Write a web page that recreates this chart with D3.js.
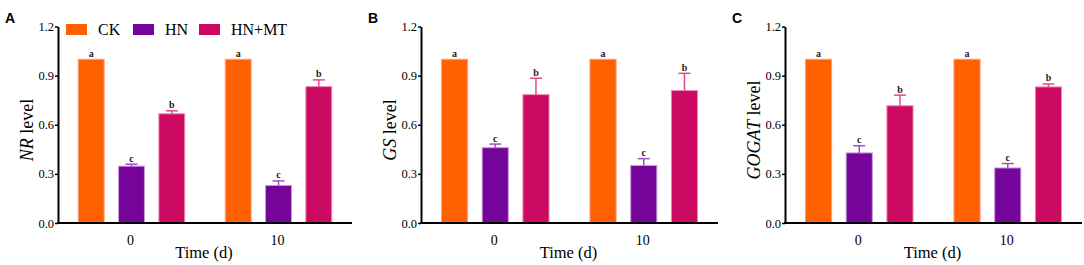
<!DOCTYPE html>
<html>
<head>
<meta charset="utf-8">
<script src="https://cdn.jsdelivr.net/npm/d3@7"></script>
<style>
  body { margin: 0; background: #fff; }
  svg { display: block; }
</style>
</head>
<body>
<svg width="1084" height="265"></svg>
<script>
const times = ["0", "10"]
const groups = ["CK", "HN", "HN+MT"]
const yTicks = [0, 0.3, 0.6, 0.9, 1.2]

// means per panel, [group][time]
const nrMean = [[1.0, 1.0], [0.347, 0.229], [0.667, 0.833]]
const nrErr = [[0, 0], [0.012, 0.028], [0.018, 0.041]]
const gsMean = [[1.0, 1.0], [0.46, 0.351], [0.784, 0.809]]
const gsErr = [[0, 0], [0.022, 0.042], [0.10, 0.105]]
const gogatMean = [[1.0, 1.0], [0.428, 0.336], [0.716, 0.831]]
const gogatErr = [[0, 0], [0.044, 0.027], [0.065, 0.018]]
const letters = [["a", "a"], ["c", "c"], ["b", "b"]]

const colors = ["#ff6000", "#75059a", "#cc0a62"]
const edges = ["#ffa080", "#c898dc", "#f08ab4"]
const errColors = ["#ff6000", "#a64cc4", "#e34891"]

const svg = d3.select("svg")
const serif = "'Liberation Serif', 'Times New Roman', serif"

const panels = [
  {tag: "A", name: "NR", mean: nrMean, err: nrErr, x0: 58, x1: 352},
  {tag: "B", name: "GS", mean: gsMean, err: gsErr, x0: 421, x1: 718},
  {tag: "C", name: "GOGAT", mean: gogatMean, err: gogatErr, x0: 785, x1: 1082}
]

const plotTop = 26.5, plotBottom = 223

panels.forEach((p, pi) => {
  const g = svg.append("g").attr("transform", "translate(" + p.x0 + ",0)")
  const w = p.x1 - p.x0

  const x = d3.scaleBand().domain(times).range([0, w]).padding(0)
  const xi = d3.scaleBand().domain(groups).range([0, x.bandwidth()])
    .paddingInner(0.333).paddingOuter(0.49)
  const y = d3.scaleLinear().domain([0, 1.2]).range([plotBottom, plotTop])

  // bars
  times.forEach((t, ti) => {
    groups.forEach((gr, gi) => {
      const v = p.mean[gi][ti]
      const e = p.err[gi][ti]
      const bx = x(t) + xi(gr)
      const bw = xi.bandwidth()
      g.append("rect")
        .attr("x", bx + 0.5).attr("y", y(v))
        .attr("width", bw - 1).attr("height", y(0) - y(v))
        .attr("fill", colors[gi])
        .attr("stroke", edges[gi]).attr("stroke-width", 1)
      const cx = bx + bw / 2
      if (e > 0) {
        g.append("line")
          .attr("x1", cx).attr("x2", cx).attr("y1", y(v)).attr("y2", y(v + e))
          .attr("stroke", errColors[gi]).attr("stroke-width", 1.5)
        g.append("line")
          .attr("x1", cx - 6).attr("x2", cx + 6).attr("y1", y(v + e)).attr("y2", y(v + e))
          .attr("stroke", errColors[gi]).attr("stroke-width", 1.5)
      }
      g.append("text")
        .attr("x", cx).attr("y", y(v + e) - 2.5)
        .attr("text-anchor", "middle")
        .style("font-family", serif).style("font-size", "10px").style("font-weight", "bold")
        .attr("fill", "#222")
        .text(letters[gi][ti])
    })
  })

  // y axis
  const ya = g.append("g")
    .call(d3.axisLeft(y).tickValues(yTicks).tickFormat(d3.format(".1f")).tickSize(3).tickSizeOuter(0))
  ya.select(".domain").attr("stroke-width", 2).attr("stroke", "#000")
  ya.selectAll(".tick line").attr("stroke-width", 1.5)
  ya.selectAll("text").style("font-family", serif).style("font-size", "12.5px").attr("fill", "#000").attr("x", -4)

  // x axis
  g.append("line")
    .attr("x1", -1).attr("x2", w).attr("y1", plotBottom).attr("y2", plotBottom)
    .attr("stroke", "#000").attr("stroke-width", 2)
  g.selectAll("text.xt").data(times).enter().append("text")
    .attr("class", "xt")
    .attr("x", d => x(d) + x.bandwidth() / 2 - 1)
    .attr("y", 245)
    .attr("text-anchor", "middle")
    .style("font-family", serif).style("font-size", "14px")
    .text(d => d)

  g.append("text")
    .attr("x", w / 2 - 1).attr("y", 257.5)
    .attr("text-anchor", "middle")
    .style("font-family", serif).style("font-size", "16.5px")
    .text("Time (d)")

  // y title
  const yt = g.append("text")
    .attr("transform", "translate(-25," + 130 + ") rotate(-90)")
    .attr("text-anchor", "middle")
    .style("font-family", serif).style("font-size", "18px")
  yt.append("tspan").style("font-style", "italic").text(p.name)
  yt.append("tspan").text(" level")

  // panel tag
  svg.append("text")
    .attr("x", p.x0 - 53).attr("y", 23)
    .style("font-family", "'Liberation Sans', Arial, sans-serif")
    .style("font-size", "14px").style("font-weight", "bold")
    .text(p.tag)
})

// legend (panel A only)
const legend = svg.append("g")
const legX = [66, 133, 199]
groups.forEach((gr, gi) => {
  legend.append("rect")
    .attr("x", legX[gi]).attr("y", 24).attr("width", 21).attr("height", 11)
    .attr("fill", colors[gi])
  legend.append("text")
    .attr("x", legX[gi] + 32).attr("y", 35)
    .style("font-family", serif).style("font-size", "16px")
    .text(gr)
})
</script>
</body>
</html>
